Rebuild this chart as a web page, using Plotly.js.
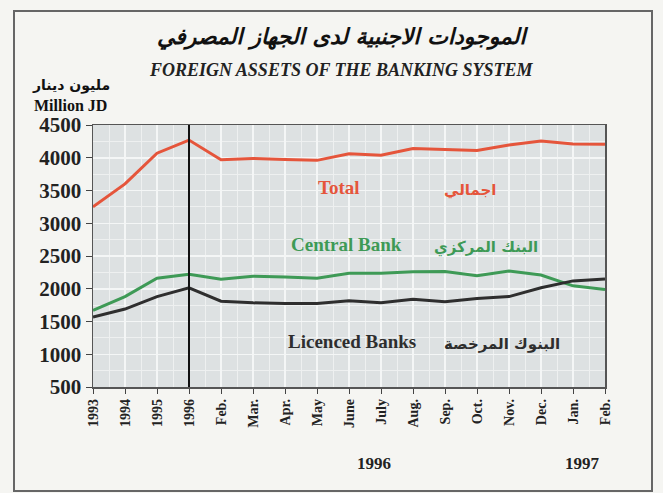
<!DOCTYPE html>
<html><head><meta charset="utf-8">
<script src="https://cdn.plot.ly/plotly-3.0.1.min.js"></script>
<style>
html,body{margin:0;padding:0;background:#f5f5f2;}
#wrap{position:relative;width:663px;height:493px;}
#chart{width:663px;height:493px;}
#frame{position:absolute;left:13px;top:10px;width:636px;height:478px;border:2px solid #666;pointer-events:none;}
</style></head>
<body><div id="wrap"><div id="chart"></div><div id="frame"></div></div>
<script>
const categories = ["1993","1994","1995","1996","Feb.","Mar.","Apr.","May","June","July","Aug.","Sep.","Oct.","Nov.","Dec.","Jan.","Feb."];
const total = [3250,3600,4070,4270,3970,3990,3975,3960,4060,4040,4140,4130,4110,4195,4255,4210,4205];
const centralBank = [1670,1880,2160,2220,2145,2190,2180,2160,2235,2235,2260,2265,2200,2270,2210,2045,1990];
const licencedBanks = [1570,1690,1880,2015,1810,1785,1775,1775,1815,1785,1840,1800,1850,1880,2015,2120,2150];
const yTicks = [500,1000,1500,2000,2500,3000,3500,4000,4500];

const idx = categories.map((c,i)=>i);
const serif = "Liberation Serif, Times New Roman, serif";
const arab = "DejaVu Sans, Noto Sans, sans-serif";

const traces = [
 {x: idx, y: total, mode:'lines', line:{color:'#e5553b', width:3}, name:'Total'},
 {x: idx, y: centralBank, mode:'lines', line:{color:'#3e9a56', width:3}, name:'Central Bank'},
 {x: idx, y: licencedBanks, mode:'lines', line:{color:'#2e2e2e', width:3}, name:'Licenced Banks'}
];

const ann = (text, x, y, color, size, family, ref) => ({text:text, x:x, y:y, xref:ref||'paper', yref:ref||'paper', showarrow:false, font:{color:color, size:size, family:family}, xanchor:'center', yanchor:'middle'});
const px = v => (v-93)/512;
const py = v => 1-(v-125)/262;

const layout = {
 width:663, height:493,
 margin:{l:93, r:58, t:125, b:106},
 paper_bgcolor:'#f5f5f2', plot_bgcolor:'#dde1e2',
 showlegend:false,
 xaxis:{range:[0,16], tickvals: idx, ticktext: categories, tickangle:-90,
   tickfont:{family:serif, size:14, color:'#222', weight:'bold'}, ticks:'outside', ticklen:5, tickcolor:'#444',
   showline:true, linecolor:'#555', linewidth:1.5, mirror:true, showgrid:true, gridcolor:'#f4f6f6', gridwidth:1.5,
   minor:{dtick:0.5, showgrid:true, gridcolor:'#eef0f0', gridwidth:1}, zeroline:false, fixedrange:true},
 yaxis:{range:[500,4500], tickvals:yTicks, ticktext: yTicks.map(String),
   tickfont:{family:serif, size:21, color:'#222', weight:'bold'}, ticks:'outside', ticklen:6, tickcolor:'#444',
   showline:true, linecolor:'#555', linewidth:1.5, mirror:true, showgrid:true, gridcolor:'#f4f6f6', gridwidth:1.5,
   minor:{dtick:250, showgrid:true, gridcolor:'#eef0f0', gridwidth:1}, zeroline:false, fixedrange:true},
 shapes:[{type:'line', xref:'x', yref:'paper', x0:3, x1:3, y0:0, y1:1, line:{color:'#111', width:2}}],
 annotations:[
  ann('<b><i>الموجودات الاجنبية لدى الجهاز المصرفي</i></b>', px(343), py(37), '#111', 22, arab),
  ann('<b><i>FOREIGN ASSETS OF THE BANKING SYSTEM</i></b>', px(341), py(70), '#222', 18, serif),
  ann('<b>مليون دينار</b>', px(71), py(85), '#111', 14, arab),
  ann('<b>Million JD</b>', px(70), py(105), '#111', 16, serif),
  ann('<b>Total</b>', px(339), py(187), '#e5553b', 19, serif),
  ann('<b>اجمالي</b>', px(470), py(190), '#e5553b', 15, arab),
  ann('<b>Central Bank</b>', px(346), py(244), '#3e9a56', 19, serif),
  ann('<b>البنك المركزي</b>', px(486), py(247), '#3e9a56', 15, arab),
  ann('<b>Licenced Banks</b>', px(352), py(341), '#2e2e2e', 19, serif),
  ann('<b>البنوك المرخصة</b>', px(502), py(344), '#2e2e2e', 15, arab),
  ann('<b>1996</b>', px(374), py(463), '#222', 17, serif),
  ann('<b>1997</b>', px(582), py(463), '#222', 17, serif)
 ]
};
Plotly.newPlot('chart', traces, layout, {staticPlot:true, displayModeBar:false});
</script></body></html>
